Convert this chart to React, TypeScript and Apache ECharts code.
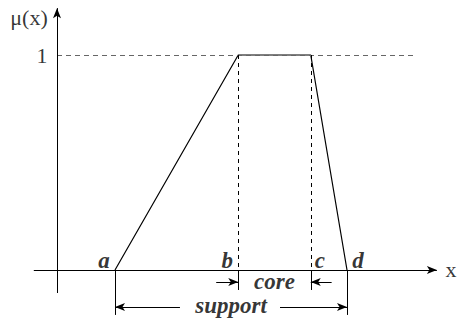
import React, { useEffect, useRef } from "react";
import * as echarts from "echarts";

// Breakpoints of the trapezoidal membership function
const pointLabels = ["a", "b", "c", "d"];
const pointX = [2, 6.25, 8.75, 10];
const pointMu = [0, 1, 1, 0];

// Axis and annotation texts
const yAxisTitle = "μ(x)";
const xAxisTitle = "x";
const oneTick = "1";
const coreText = "core";
const supportText = "support";

// Axis extents (data units)
const xAxisStart = -0.8;
const xAxisEnd = 13.1;
const yAxisStart = -0.107;
const yAxisEnd = 1.218;
const guideEnd = 12.3;

// Dimension-line levels (data units)
const coreY = -0.056;
const supportY = -0.172;
const coreTickEnd = -0.093;
const supportTickEnd = -0.209;

const SERIF = "'Liberation Serif', 'Times New Roman', serif";

export default function App() {
  const ref = useRef<HTMLDivElement>(null);

  useEffect(() => {
    if (!ref.current) return;
    const chart = echarts.init(ref.current, null, { renderer: "svg" });
    const [a, b, c, d] = pointX;
    const black = "#000";
    const solid = { color: black, width: 1, type: "solid" as const };
    const grayDash = { color: "#666", width: 1, type: [5, 4] as any };
    const blackDash = { color: black, width: 1, type: [4, 4] as any };

    const seg = (x1: number, y1: number, x2: number, y2: number, ls: any) => [
      { coord: [x1, y1], lineStyle: ls },
      { coord: [x2, y2] },
    ];

    const labelItem = (
      name: string,
      x: number,
      y: number,
      offset: number[],
      font: any
    ) => ({
      name,
      value: [x, y],
      label: {
        show: true,
        formatter: name,
        position: "inside",
        align: "center",
        verticalAlign: "middle",
        offset,
        color: black,
        fontFamily: SERIF,
        ...font,
      },
    });

    const boldItalic = { fontSize: 23, fontWeight: "bold", fontStyle: "italic" };
    const regular = { fontSize: 22, fontWeight: "normal", fontStyle: "normal" };

    const labelOffsets = [
      [-11, -10],
      [-11, -10],
      [9, -10],
      [11, -10],
    ];

    chart.setOption({
      animation: false,
      backgroundColor: "#fff",
      grid: { left: 28, right: 8.5, top: 1.25, bottom: 2.7, containLabel: false },
      xAxis: { type: "value", min: -1, max: 13.5, show: false },
      yAxis: { type: "value", min: -0.22, max: 1.25, show: false },
      series: [
        {
          type: "line",
          name: "membership",
          data: pointX.map((x, i) => [x, pointMu[i]]),
          symbol: "none",
          lineStyle: { color: black, width: 1.2 },
          silent: true,
          clip: false,
          markLine: {
            silent: true,
            symbol: ["none", "none"],
            label: { show: false },
            emphasis: { disabled: true },
            data: [
              seg(0, 1, guideEnd, 1, grayDash),
              seg(b, 1, b, 0, blackDash),
              seg(c, 1, c, 0, blackDash),
              seg(b, 0, b, coreTickEnd, solid),
              seg(c, 0, c, coreTickEnd, solid),
              seg(a, 0, a, supportTickEnd, solid),
              seg(d, 0, d, supportTickEnd, solid),
            ],
          },
        },
        {
          type: "line",
          name: "arrows",
          data: [],
          silent: true,
          clip: false,
          markLine: {
            silent: true,
            symbol: ["none", "arrow"],
            symbolSize: [6, 10],
            label: { show: false },
            emphasis: { disabled: true },
            data: [
              seg(xAxisStart, 0, xAxisEnd, 0, solid),
              seg(0, yAxisStart, 0, yAxisEnd, solid),
              seg(b - 0.76, coreY, b, coreY, solid),
              seg(c + 0.72, coreY, c, coreY, solid),
              seg(a + 2.24, supportY, a, supportY, solid),
              seg(d - 2.31, supportY, d, supportY, solid),
            ],
          },
        },
        {
          type: "scatter",
          name: "texts",
          symbolSize: 1,
          itemStyle: { color: "rgba(0,0,0,0)" },
          silent: true,
          clip: false,
          data: [
            ...pointLabels.map((n, i) =>
              labelItem(n, pointX[i], 0, labelOffsets[i], boldItalic)
            ),
            labelItem(coreText, (b + c) / 2, coreY, [0, -1], boldItalic),
            labelItem(supportText, (a + d) / 2, supportY, [0, -1], boldItalic),
            labelItem(oneTick, 0, 1, [-15, 0], regular),
            labelItem(yAxisTitle, 0, yAxisEnd, [-28, 9], regular),
            labelItem(xAxisTitle, xAxisEnd, 0, [14, -1], regular),
          ],
        },
      ],
    });
    return () => chart.dispose();
  }, []);

  return (
    <div
      ref={ref}
      style={{ position: "fixed", left: 0, top: 0, width: 457, height: 320 }}
    />
  );
}
